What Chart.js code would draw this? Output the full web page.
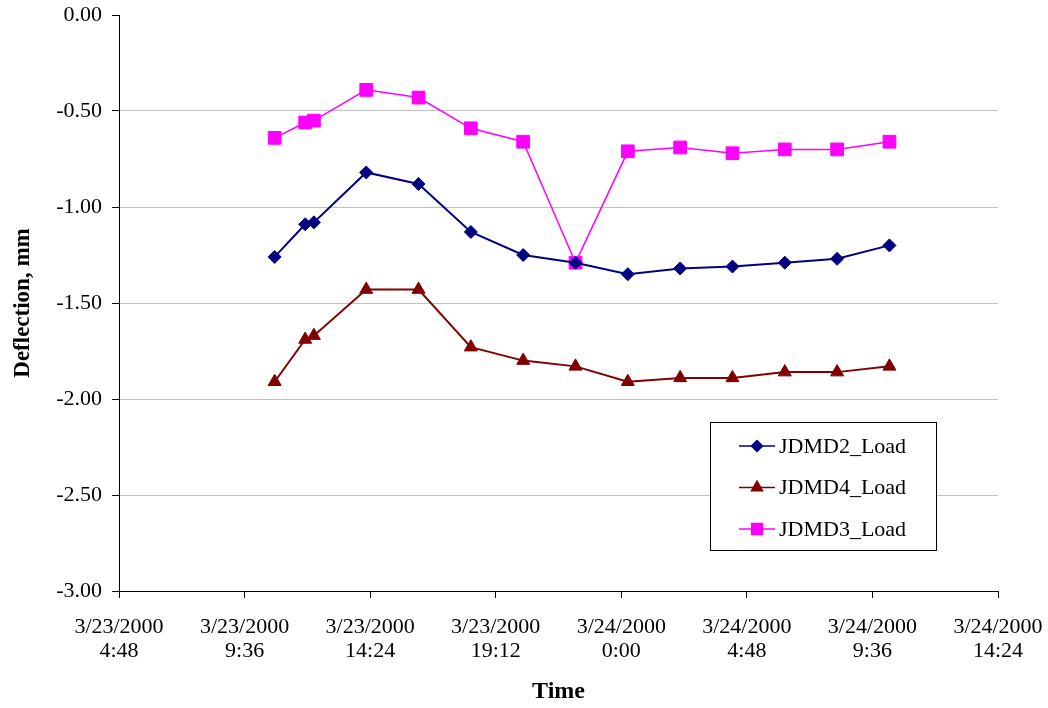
<!DOCTYPE html>
<html>
<head>
<meta charset="utf-8">
<script src="https://cdn.jsdelivr.net/npm/chart.js@4/dist/chart.umd.min.js"></script>
<style>
  html, body { margin: 0; padding: 0; background: #fff; }
  #wrap { width: 1048px; height: 708px; position: relative; }
</style>
</head>
<body>
<div id="wrap"><canvas id="grafico"></canvas></div>
<script>
// dados (deflexão em mm)
const tempos = [
  '3/23/2000 10:45', '3/23/2000 11:55', '3/23/2000 12:15', '3/23/2000 14:15',
  '3/23/2000 16:15', '3/23/2000 18:15', '3/23/2000 20:15', '3/23/2000 22:15',
  '3/24/2000 0:15', '3/24/2000 2:15', '3/24/2000 4:15', '3/24/2000 6:15',
  '3/24/2000 8:15', '3/24/2000 10:15'
];
const jdmd2 = [-1.26, -1.09, -1.08, -0.82, -0.88, -1.13, -1.25, -1.29, -1.35, -1.32, -1.31, -1.29, -1.27, -1.20];
const jdmd4 = [-1.91, -1.69, -1.67, -1.43, -1.43, -1.73, -1.80, -1.83, -1.91, -1.89, -1.89, -1.86, -1.86, -1.83];
const jdmd3 = [-0.64, -0.56, -0.55, -0.39, -0.43, -0.59, -0.66, -1.29, -0.71, -0.69, -0.72, -0.70, -0.70, -0.66];

const ticksX = [
  '3/23/2000 4:48', '3/23/2000 9:36', '3/23/2000 14:24', '3/23/2000 19:12',
  '3/24/2000 0:00', '3/24/2000 4:48', '3/24/2000 9:36', '3/24/2000 14:24'
];

const FONTE = "'Liberation Serif', 'Times New Roman', serif";

// horas desde 3/23/2000 0:00
function horas(s) {
  const [d, t] = s.split(' ');
  const dia = Number(d.split('/')[1]);
  const [h, m] = t.split(':').map(Number);
  return (dia - 23) * 24 + h + m / 60;
}

const valoresTicks = ticksX.map(horas);

function serie(label, valores, cor, estilo, raio, espessura) {
  return {
    label,
    data: tempos.map((t, i) => ({ x: horas(t), y: valores[i] })),
    borderColor: cor,
    backgroundColor: cor,
    borderWidth: espessura,
    pointStyle: estilo,
    pointRadius: raio,
    pointHoverRadius: raio,
    pointBorderWidth: 1,
    tension: 0
  };
}

// legenda desenhada dentro da área do gráfico
const legendaCaixa = {
  id: 'legendaCaixa',
  afterDraw(chart) {
    const ctx = chart.ctx;
    const x0 = 710, y0 = 422, w = 226, h = 128;
    ctx.save();
    ctx.fillStyle = '#fff';
    ctx.fillRect(x0, y0, w, h);
    ctx.strokeStyle = '#000';
    ctx.lineWidth = 1;
    ctx.strokeRect(x0 + 0.5, y0 + 0.5, w, h);
    chart.data.datasets.forEach((ds, k) => {
      const y = y0 + 24 + k * 41.5;
      ctx.strokeStyle = ds.borderColor;
      ctx.lineWidth = 1.5;
      ctx.beginPath();
      ctx.moveTo(x0 + 29, y);
      ctx.lineTo(x0 + 65, y);
      ctx.stroke();
      ctx.fillStyle = ds.backgroundColor;
      Chart.helpers.drawPoint(ctx, {
        pointStyle: ds.pointStyle, radius: ds.pointRadius * 0.85, rotation: 0, borderWidth: 1
      }, x0 + 47, y);
      ctx.fillStyle = '#000';
      ctx.font = '22px ' + FONTE;
      ctx.textBaseline = 'middle';
      ctx.textAlign = 'left';
      ctx.fillText(ds.label, x0 + 69, y + 1);
    });
    ctx.restore();
  }
};

new Chart(document.getElementById('grafico'), {
  type: 'line',
  data: {
    datasets: [
      serie('JDMD2_Load', jdmd2, '#000080', 'rectRot', 6.5, 2),
      serie('JDMD4_Load', jdmd4, '#800000', 'triangle', 7.5, 2),
      serie('JDMD3_Load', jdmd3, '#FF00FF', 'rect', 9, 1.5)
    ]
  },
  options: {
    responsive: true,
    maintainAspectRatio: false,
    animation: false,
    layout: { padding: { top: 15, right: 50, bottom: 2, left: 9 } },
    plugins: {
      legend: { display: false },
      tooltip: { enabled: false }
    },
    scales: {
      x: {
        type: 'linear',
        min: valoresTicks[0],
        max: valoresTicks[valoresTicks.length - 1],
        afterBuildTicks: (scale) => {
          scale.ticks = valoresTicks.map(v => ({ value: v }));
        },
        afterFit: (scale) => {
          scale.height = 115;
          scale.paddingLeft = 0;
          scale.paddingRight = 0;
        },
        border: { color: '#000', width: 1 },
        grid: { drawOnChartArea: false, tickColor: '#000', tickLength: 7 },
        ticks: {
          autoSkip: false,
          maxRotation: 0,
          padding: 17,
          color: '#000',
          font: { family: FONTE, size: 22, lineHeight: 1.1 },
          callback: (v, i) => ticksX[i].split(' ')
        },
        title: {
          display: true,
          text: 'Time',
          color: '#000',
          font: { family: FONTE, size: 24, weight: 'bold' },
          padding: { top: 15, bottom: 0 }
        }
      },
      y: {
        min: -3,
        max: 0,
        afterFit: (scale) => {
          scale.width = 110;
          scale.paddingTop = 0;
          scale.paddingBottom = 0;
        },
        border: { color: '#000', width: 1 },
        grid: {
          color: (c) => (c.tick && (c.tick.value === 0 || c.tick.value === -3)) ? 'rgba(0,0,0,0)' : '#c0c0c0',
          tickColor: '#000',
          tickLength: 7
        },
        ticks: {
          stepSize: 0.5,
          padding: 10,
          color: '#000',
          font: { family: FONTE, size: 22 },
          callback: (v) => v.toFixed(2)
        },
        title: {
          display: true,
          text: 'Deflection, mm',
          color: '#000',
          font: { family: FONTE, size: 23, weight: 'bold' },
          padding: { top: 0, bottom: 4 }
        }
      }
    }
  },
  plugins: [legendaCaixa]
});
</script>
</body>
</html>
